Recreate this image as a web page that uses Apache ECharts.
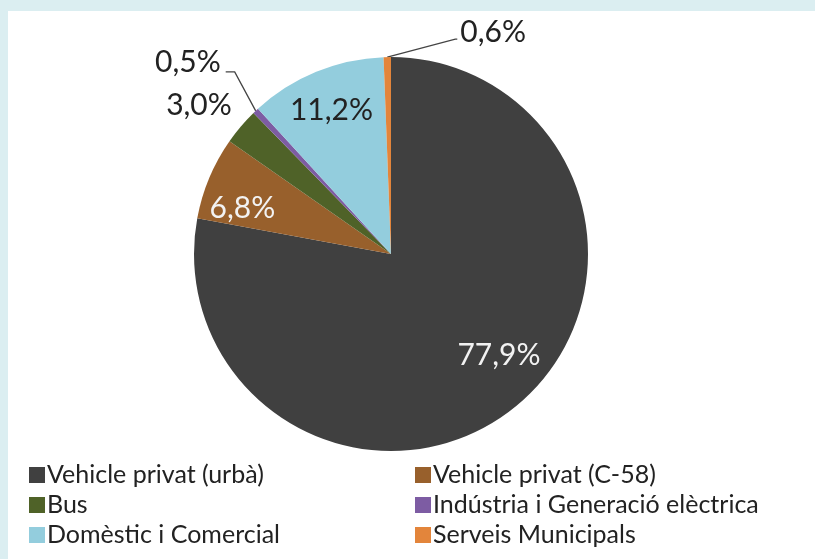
<!DOCTYPE html>
<html lang="ca">
<head>
    <meta charset="UTF-8">
    <title>Emissions per sector</title>
    <script src="https://cdn.jsdelivr.net/npm/echarts@6/dist/echarts.min.js"></script>
    <style>
        html, body { margin: 0; padding: 0; background: #dbeef1; }
        #panel { position: absolute; left: 8px; top: 11px; right: 0; bottom: 0; background: #fff; }
        #chartmain { position: absolute; left: 0; top: 0; width: 815px; height: 559px; }
    </style>
</head>
<body>
<div id="panel"></div>
<div id="chartmain"></div>

<script>
    // dades (percentatges)
    var categories = ["Vehicle privat (urbà)", "Vehicle privat (C-58)", "Bus",
        "Indústria i Generació elèctrica", "Domèstic i Comercial", "Serveis Municipals"];
    var shares = [77.9, 6.8, 3.0, 0.5, 11.2, 0.6];

    var colors = ["#404040", "#98602c", "#4f6228", "#7d5ca3", "#93cddd", "#e3853b"];
    var fontName = "Lato";

    function pct(v) {
        return v.toFixed(1).replace(".", ",") + "%";
    }

    var slices = categories.map(function (name, i) {
        return { name: name, value: shares[i] };
    });
    // etiquetes dins / fora
    slices[0].label = { position: "inside", color: "#f2f2f2" };
    slices[1].label = { position: "inside", color: "#f2f2f2" };
    slices[4].label = { position: "inside", color: "#222" };
    slices[2].label = { position: "outside" };
    slices[2].labelLine = { show: true, lineStyle: { opacity: 0 } };
    slices[3].label = { position: "outside" };
    slices[3].labelLine = { show: true };
    slices[5].label = { position: "outside" };
    slices[5].labelLine = { show: true };

    var myChart = echarts.init(document.getElementById('chartmain'));

    var legendBase = {
        orient: "vertical",
        top: 460, height: 99, padding: 0,
        icon: "rect", itemWidth: 16, itemHeight: 16, itemGap: 0,
        selectedMode: false,
        textStyle: { fontFamily: fontName, fontSize: 25, lineHeight: 30, color: "#222", padding: [0, 0, 0, -3] }
    };

    var option = {
        backgroundColor: "transparent",
        color: colors,
        animation: false,
        legend: [
            Object.assign({}, legendBase, { left: 29, data: [categories[0], categories[2], categories[4]] }),
            Object.assign({}, legendBase, { left: 415, data: [categories[1], categories[3], categories[5]] })
        ],
        series: [{
            type: "pie",
            center: [391, 254],
            radius: 197,
            startAngle: 90,
            clockwise: true,
            avoidLabelOverlap: false,
            itemStyle: { borderWidth: 0 },
            label: {
                fontFamily: fontName, fontSize: 30, color: "#222",
                formatter: function (p) { return pct(p.value); }
            },
            labelLine: { show: false, lineStyle: { color: "#444", width: 1.3 }, length: 10, length2: 10 },
            labelLayout: function (p) {
                var a = p.labelLinePoints ? p.labelLinePoints[0] : null;
                if (p.dataIndex === 0) return { dx: 43, dy: 23 };
                if (p.dataIndex === 1) return { dx: -55, dy: -7 };
                if (p.dataIndex === 4) return { dx: -21, dy: -50 };
                if (p.dataIndex === 2 && a) {
                    return { x: a[0] - 9, y: a[1] - 21, align: "right", verticalAlign: "middle",
                        labelLinePoints: [a, a, a] };
                }
                if (p.dataIndex === 3 && a) {
                    return { x: a[0] - 35, y: a[1] - 48, align: "right", verticalAlign: "middle",
                        labelLinePoints: [a, [a[0] - 21, a[1] - 39], [a[0] - 30, a[1] - 39]] };
                }
                if (p.dataIndex === 5 && a) {
                    return { x: a[0] + 73, y: a[1] - 25, align: "left", verticalAlign: "middle",
                        labelLinePoints: [a, [a[0] + 68, a[1] - 18], [a[0] + 70, a[1] - 18]] };
                }
            },
            data: slices
        }]
    };

    myChart.setOption(option);
</script>
</body>
</html>
